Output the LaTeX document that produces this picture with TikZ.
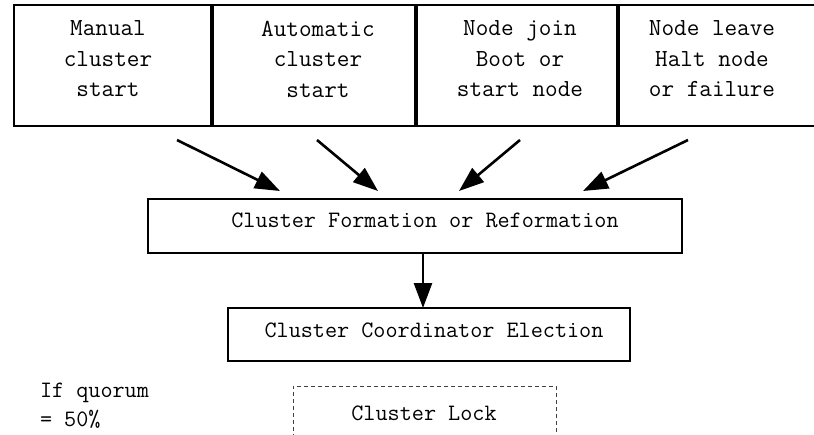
\documentclass[tikz,border=0pt]{standalone}
\usepackage{fontspec}
\usetikzlibrary{arrows.meta}
\begin{document}
\begin{tikzpicture}[x=1pt,y=-1pt,
  every node/.style={inner sep=0pt, outer sep=0pt},
  topbox/.style={draw, line width=2.8pt, minimum height=121pt},
  divider/.style={line width=3.8pt},
  stepbox/.style={draw, line width=2.8pt},
  lockbox/.style={draw=black!75, line width=0.9pt, dash pattern=on 4pt off 3pt},
  toptext/.style={font=\ttfamily\fontsize{24.5}{30.5}\selectfont, align=center},
  btext/.style={font=\ttfamily\fontsize{23.5}{29}\selectfont},
  flow/.style={line width=2.6pt, -{Triangle[length=25pt, width=18pt]}},
]
% canvas
\fill[white] (0,0) rectangle (814,434);
\useasboundingbox (0,0) rectangle (814,434);

% row of triggering events
\node[topbox, minimum width=198pt] (b1) at (113,65.5) {};
\node[topbox, minimum width=204pt] (b2) at (314,65.5) {};
\node[topbox, minimum width=202pt] (b3) at (517,65.5) {};
\node[topbox, minimum width=204pt] (b4) at (720,65.5) {};
\draw[divider] (b1.north east) -- (b1.south east);
\draw[divider] (b2.north east) -- (b2.south east);
\draw[divider] (b3.north east) -- (b3.south east);

\node[toptext] (t1) at (108,59) {Manual\\cluster\\start};
\node[toptext] (t2) at (318,59) {Automatic\\cluster\\start};
\node[toptext] (t3) at (520,59) {Node join\\Boot or\\start node};
\node[toptext] (t4) at (712,59) {Node leave\\Halt node\\or failure};

% formation and election steps
\node[stepbox, minimum width=534pt, minimum height=54pt] (form) at (415,226) {};
\node[btext] (formtext) at (425,220.5) {Cluster Formation or Reformation};
\node[stepbox, minimum width=402pt, minimum height=53pt] (coord) at (429,334.5) {};
\node[btext] (coordtext) at (434,330) {Cluster Coordinator Election};

% lock and quorum note
\node[lockbox, minimum width=263pt, minimum height=70pt] (lock) at (424.5,421) {};
\node[btext] (locktext) at (424,413) {Cluster Lock};
\node[btext, align=left, anchor=west] (quorum) at (40,405.5) {If quorum\\= 50\%};

% arrow end points
\coordinate (s1) at (177,140); \coordinate (e1) at (280,191);
\coordinate (s2) at (317,140); \coordinate (e2) at (378,191);
\coordinate (s3) at (520,140); \coordinate (e3) at (459,191);
\coordinate (s4) at (688,140); \coordinate (e4) at (583,191);
\coordinate (vx) at (423,0);

\draw[flow] (s1) -- (e1);
\draw[flow] (s2) -- (e2);
\draw[flow] (s3) -- (e3);
\draw[flow] (s4) -- (e4);
\draw[flow] (form.south -| vx) -- (coord.north -| vx);
\end{tikzpicture}
\end{document}
